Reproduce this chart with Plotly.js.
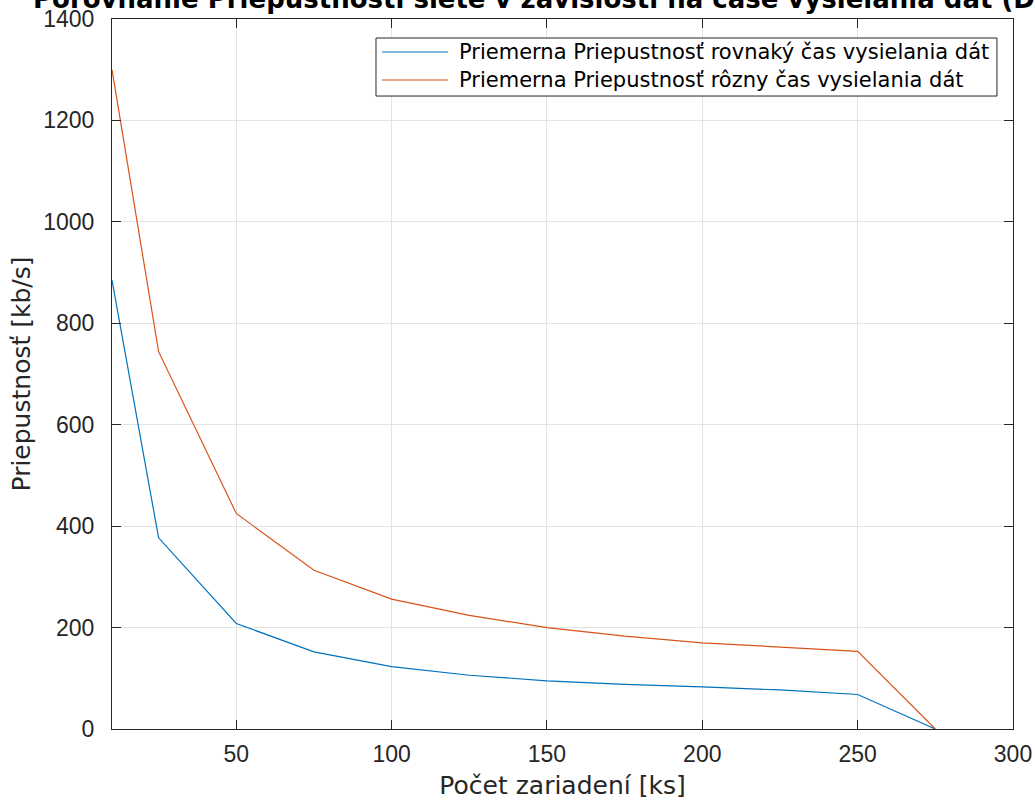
<!DOCTYPE html>
<html>
<head>
<meta charset="utf-8">
<script src="https://cdn.plot.ly/plotly-3.0.1.min.js"></script>
<style>body{margin:0;padding:0;background:#fff;}#chart{width:1035px;height:800px;}</style>
</head>
<body>
<div id="chart"></div>
<script>
const devices = [10, 25, 50, 75, 100, 125, 150, 175, 200, 225, 250, 275];
const throughputSame = [885, 377, 208, 152, 123, 106, 95, 88, 83, 77, 68, 0];
const throughputDiff = [1300, 744, 425, 313, 256, 224, 200, 183, 170, 161, 153, 0];
const seriesNames = ["Priemerna Priepustnosť rovnaký čas vysielania dát", "Priemerna Priepustnosť rôzny čas vysielania dát"];
const seriesColors = ['#0072BD', '#D95319'];
const xTicks = [50, 100, 150, 200, 250, 300];
const yTicks = [0, 200, 400, 600, 800, 1000, 1200, 1400];

const axisColor = '#262626';
const gridColor = '#e3e3e3';

const traces = [
  {x: devices, y: throughputSame, name: seriesNames[0], type: 'scatter', mode: 'lines', line: {color: seriesColors[0], width: 1.2}},
  {x: devices, y: throughputDiff, name: seriesNames[1], type: 'scatter', mode: 'lines', line: {color: seriesColors[1], width: 1.2}}
];

// custom legend (box, sample lines and labels) in paper coordinates
const legBox = {x0: 0.2930, x1: 0.9822, y0: 0.8915, y1: 0.9732};
const legRowsY = [0.9535, 0.9141];
const legLineX = [0.2997, 0.3729];
const legTextX = 0.3829;

const shapes = [
  {type: 'rect', xref: 'paper', yref: 'paper', x0: legBox.x0, x1: legBox.x1, y0: legBox.y0, y1: legBox.y1,
   line: {color: axisColor, width: 1}, fillcolor: '#fff', layer: 'above'}
];
const annotations = [];
seriesNames.forEach((n, i) => {
  shapes.push({type: 'line', xref: 'paper', yref: 'paper', x0: legLineX[0], x1: legLineX[1], y0: legRowsY[i], y1: legRowsY[i],
    line: {color: seriesColors[i], width: 1.2}, layer: 'above'});
  annotations.push({xref: 'paper', yref: 'paper', x: legTextX, y: legRowsY[i], xanchor: 'left', yanchor: 'middle',
    text: n, showarrow: false, font: {family: 'DejaVu Sans', size: 21, color: '#000'}});
});

const layout = {
  width: 1035, height: 800,
  margin: {l: 112, r: 22, t: 19, b: 71},
  paper_bgcolor: '#fff', plot_bgcolor: '#fff',
  title: {
    text: '<b>Porovnanie Priepustnosti siete v závislosti na čase vysielania dát (Default)</b>',
    font: {family: 'DejaVu Sans', size: 26, color: '#000'},
    xref: 'container', x: 33/1035, xanchor: 'left',
    yref: 'container', y: 0.990, yanchor: 'bottom'
  },
  xaxis: {
    range: [10, 300], tickvals: xTicks, ticktext: xTicks.map(String),
    showline: true, linecolor: axisColor, linewidth: 1, mirror: 'ticks',
    ticks: 'inside', ticklen: 9, tickcolor: axisColor, ticklabelstandoff: 4,
    showgrid: true, gridcolor: gridColor, gridwidth: 1, zeroline: false,
    tickfont: {family: 'Liberation Sans', size: 23, color: axisColor},
    title: {text: 'Počet zariadení [ks]', font: {family: 'DejaVu Sans', size: 25, color: axisColor}, standoff: 12}
  },
  yaxis: {
    range: [0, 1400], tickvals: yTicks, ticktext: yTicks.map(String),
    showline: true, linecolor: axisColor, linewidth: 1, mirror: 'ticks',
    ticks: 'inside', ticklen: 9, tickcolor: axisColor, ticklabelstandoff: 12,
    showgrid: true, gridcolor: gridColor, gridwidth: 1, zeroline: false,
    tickfont: {family: 'Liberation Sans', size: 23, color: axisColor},
    title: {text: 'Priepustnosť [kb/s]', font: {family: 'DejaVu Sans', size: 25, color: axisColor}, standoff: 5}
  },
  showlegend: false,
  shapes: shapes,
  annotations: annotations
};

Plotly.newPlot('chart', traces, layout, {displayModeBar: false, staticPlot: true});
</script>
</body>
</html>
